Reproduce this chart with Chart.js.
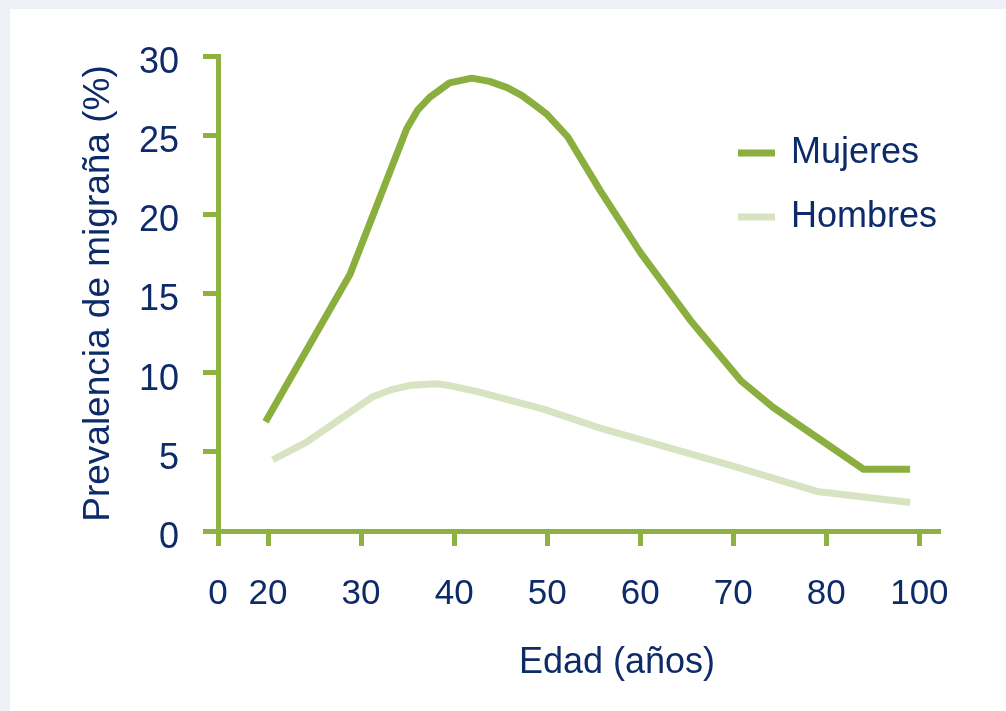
<!DOCTYPE html>
<html lang="es">
<head>
<meta charset="utf-8">
<title>Prevalencia de migraña por edad</title>
<script src="https://cdn.jsdelivr.net/npm/chart.js@4.4.1/dist/chart.umd.min.js"></script>
<style>
  html, body { margin: 0; padding: 0; }
  body { width: 1006px; height: 711px; background: #eef2f6; position: relative; overflow: hidden; }
  #panel { position: absolute; left: 10px; top: 9px; right: 0; bottom: 0; background: #fff; }
  #wrap { position: absolute; left: 0; top: 0; width: 1006px; height: 711px; }
</style>
</head>
<body>
<div id="panel"></div>
<div id="wrap"><canvas id="migraineChart" width="1006" height="711"></canvas></div>
<script>
// Axis ticks (the age axis is not proportional: 0 sits close to 20, 80 -> 100 is one step)
const tickAges = [0, 20, 30, 40, 50, 60, 70, 80, 100];
const tickLabels = ['0', '20', '30', '40', '50', '60', '70', '80', '100'];
const tickSlots = [-50 / 93, 0, 1, 2, 3, 4, 5, 6, 7];

// Series
const mujeresAges = [19, 28.8, 34.9, 36.1, 37.4, 39.5, 41.9, 43.8, 45.7, 47.3, 48.9, 50, 52.2, 55.7, 60, 65.4, 70.8, 74.3, 88, 98];
const mujeresValues = [6.9, 16.2, 25.4, 26.6, 27.4, 28.3, 28.6, 28.4, 28.0, 27.5, 26.8, 26.3, 24.9, 21.5, 17.6, 13.3, 9.5, 7.8, 3.9, 3.9];
const hombresAges = [20.5, 24.1, 31.3, 33.4, 35.3, 38.2, 39.8, 42.5, 49.6, 55.7, 70, 79, 98];
const hombresValues = [4.5, 5.6, 8.5, 8.95, 9.2, 9.3, 9.15, 8.8, 7.7, 6.5, 4.1, 2.5, 1.8];

const textColor = '#0e2b69';
const axisColor = '#8db23f';
const mujeresColor = '#8aaf3e';
const hombresColor = '#d8e3c1';

// age -> position on the axis, piecewise between the tick marks
function ageToSlot(age) {
  for (let i = 1; i < tickAges.length; i++) {
    if (age <= tickAges[i]) {
      const t = (age - tickAges[i - 1]) / (tickAges[i] - tickAges[i - 1]);
      return tickSlots[i - 1] + t * (tickSlots[i] - tickSlots[i - 1]);
    }
  }
  return tickSlots[tickSlots.length - 1];
}

function toPoints(ages, values) {
  return ages.map((a, i) => ({ x: ageToSlot(a), y: values[i] }));
}

// Legend drawn inside the plot, top right
const insideLegend = {
  id: 'insideLegend',
  afterDraw(chart) {
    const { ctx, chartArea } = chart;
    ctx.save();
    chart.data.datasets.forEach((ds, i) => {
      const y = chartArea.top + 97 + i * 64;
      ctx.fillStyle = ds.borderColor;
      ctx.fillRect(chartArea.right - 200, y - 3.5, 37, 7);
      ctx.fillStyle = textColor;
      ctx.font = '36px "Liberation Sans", Arial, sans-serif';
      ctx.textBaseline = 'middle';
      ctx.textAlign = 'left';
      ctx.fillText(ds.label, chartArea.right - 147, y);
    });
    ctx.restore();
  }
};

// x axis title sits a bit right of centre in the original
const xTitle = {
  id: 'xTitle',
  afterDraw(chart) {
    const { ctx, chartArea } = chart;
    ctx.save();
    ctx.fillStyle = textColor;
    ctx.font = '36px "Liberation Sans", Arial, sans-serif';
    ctx.textAlign = 'center';
    ctx.textBaseline = 'middle';
    ctx.fillText('Edad (años)', chartArea.left + 399, 663);
    ctx.restore();
  }
};

function initializeMigraineChart() {
  const ctx = document.getElementById('migraineChart');
  if (!ctx) return;

  Chart.defaults.font.family = '"Liberation Sans", Arial, sans-serif';
  Chart.defaults.color = textColor;

  new Chart(ctx, {
    type: 'line',
    data: {
      datasets: [
        {
          label: 'Mujeres',
          data: toPoints(mujeresAges, mujeresValues),
          borderColor: mujeresColor,
          borderWidth: 7,
          pointRadius: 0,
          tension: 0,
          borderJoinStyle: 'round'
        },
        {
          label: 'Hombres',
          data: toPoints(hombresAges, hombresValues),
          borderColor: hombresColor,
          borderWidth: 7,
          pointRadius: 0,
          tension: 0,
          borderJoinStyle: 'round'
        }
      ]
    },
    options: {
      responsive: false,
      animation: false,
      layout: {
        padding: { left: 0, right: 68, top: 56, bottom: 0 }
      },
      plugins: {
        legend: { display: false },
        tooltip: { enabled: false }
      },
      scales: {
        x: {
          type: 'linear',
          min: tickSlots[0],
          max: 7.2,
          afterBuildTicks: (scale) => {
            scale.ticks = tickSlots.map(v => ({ value: v }));
          },
          afterFit: (scale) => { scale.height = 180; },
          ticks: {
            autoSkip: false,
            maxRotation: 0,
            padding: 27,
            font: { size: 35 },
            callback: (value, index) => tickLabels[index]
          },
          grid: { drawOnChartArea: false, tickLength: 15, color: axisColor, lineWidth: 5 },
          border: { color: axisColor, width: 5 }
        },
        y: {
          min: 0,
          max: 30,
          afterFit: (scale) => { scale.width = 218; },
          ticks: {
            stepSize: 5,
            padding: 24,
            labelOffset: 7,
            font: { size: 36 }
          },
          grid: { drawOnChartArea: false, tickLength: 15, color: axisColor, lineWidth: 5 },
          border: { color: axisColor, width: 5 },
          title: {
            display: true,
            text: 'Prevalencia de migraña (%)',
            font: { size: 37 },
            padding: { top: 77, bottom: 0 }
          }
        }
      }
    },
    plugins: [insideLegend, xTitle]
  });
}

document.addEventListener('DOMContentLoaded', () => {
  initializeMigraineChart();
});
</script>
</body>
</html>
